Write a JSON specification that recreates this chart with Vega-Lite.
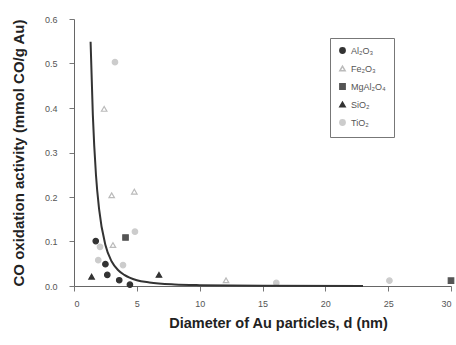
{
  "$schema": "https://vega.github.io/schema/vega-lite/v6.json",
  "autosize": {"type": "none"},
  "width": 377,
  "height": 267,
  "padding": {"left": 74, "top": 19, "right": 5, "bottom": 59},
  "background": "white",
  "config": {
    "font": "Liberation Sans",
    "view": {"stroke": null},
    "axis": {"grid": false, "domainColor": "#666", "tickColor": "#777", "labelColor": "#555", "labelFontSize": 9, "titleColor": "#222", "titleFontWeight": "bold"}
  },
  "datasets": {
    "pts": [
      {"d": 1.73, "a": 0.101, "s": "Al₂O₃"},
      {"d": 2.5, "a": 0.049, "s": "Al₂O₃"},
      {"d": 2.65, "a": 0.025, "s": "Al₂O₃"},
      {"d": 3.6, "a": 0.013, "s": "Al₂O₃"},
      {"d": 4.45, "a": 0.003, "s": "Al₂O₃"},
      {"d": 2.4, "a": 0.398, "s": "Fe₂O₃"},
      {"d": 3.0, "a": 0.204, "s": "Fe₂O₃"},
      {"d": 4.8, "a": 0.212, "s": "Fe₂O₃"},
      {"d": 3.1, "a": 0.092, "s": "Fe₂O₃"},
      {"d": 12.1, "a": 0.013, "s": "Fe₂O₃"},
      {"d": 4.1, "a": 0.109, "s": "MgAl₂O₄"},
      {"d": 30, "a": 0.012, "s": "MgAl₂O₄"},
      {"d": 1.4, "a": 0.021, "s": "SiO₂"},
      {"d": 6.76, "a": 0.025, "s": "SiO₂"},
      {"d": 3.26, "a": 0.503, "s": "TiO₂"},
      {"d": 4.85, "a": 0.122, "s": "TiO₂"},
      {"d": 2.07, "a": 0.088, "s": "TiO₂"},
      {"d": 1.93, "a": 0.058, "s": "TiO₂"},
      {"d": 3.9, "a": 0.047, "s": "TiO₂"},
      {"d": 16.1, "a": 0.007, "s": "TiO₂"},
      {"d": 25.1, "a": 0.012, "s": "TiO₂"}
    ],
    "fit": [
      {"d": 1.32, "a": 0.549},
      {"d": 1.5, "a": 0.384},
      {"d": 1.75, "a": 0.249},
      {"d": 2.0, "a": 0.172},
      {"d": 2.5, "a": 0.092},
      {"d": 3.0, "a": 0.055},
      {"d": 3.5, "a": 0.036},
      {"d": 4.0, "a": 0.025},
      {"d": 5.0, "a": 0.013},
      {"d": 6.0, "a": 0.008},
      {"d": 8.0, "a": 0.0035},
      {"d": 10.0, "a": 0.0019},
      {"d": 15.0, "a": 0.0006},
      {"d": 23.0, "a": 0.0001}
    ]
  },
  "layer": [
    {
      "data": {"name": "pts"},
      "mark": {"type": "point", "size": 30, "strokeWidth": 1.2, "fillOpacity": 1},
      "encoding": {
        "x": {"field": "d", "type": "quantitative", "scale": {"domain": [0, 30], "nice": false},
          "axis": {"values": [0, 5, 10, 15, 20, 25, 30], "tickSize": 5, "labelPadding": 8,
            "title": "Diameter of Au particles, d (nm)", "titleFontSize": 14.5, "titlePadding": 8, "titleX": 204}},
        "y": {"field": "a", "type": "quantitative", "scale": {"domain": [0, 0.6], "nice": false},
          "axis": {"values": [0, 0.1, 0.2, 0.3, 0.4, 0.5, 0.6], "format": ".1f", "tickSize": 5, "labelPadding": 12,
            "title": "CO oxidation activity (mmol CO/g Au)", "titleFontSize": 15, "titlePadding": 18}},
        "shape": {"field": "s", "type": "nominal",
          "scale": {"domain": ["Al₂O₃", "Fe₂O₃", "MgAl₂O₄", "SiO₂", "TiO₂"], "range": ["circle", "triangle-up", "square", "triangle-up", "circle"]},
          "legend": {"title": null, "orient": "none", "legendX": 256, "legendY": 19, "strokeColor": "#777", "padding": 8, "labelFontSize": 9, "labelColor": "#555", "rowPadding": 6, "symbolSize": 28}},
        "color": {"field": "s", "type": "nominal",
          "scale": {"domain": ["Al₂O₃", "Fe₂O₃", "MgAl₂O₄", "SiO₂", "TiO₂"], "range": ["#333", "#bbb", "#555", "#333", "#ccc"]},
          "legend": {"title": null, "orient": "none", "legendX": 256, "legendY": 19, "strokeColor": "#777", "padding": 8, "labelFontSize": 9, "labelColor": "#555", "rowPadding": 6, "symbolSize": 28}},
        "fill": {"field": "s", "type": "nominal",
          "scale": {"domain": ["Al₂O₃", "Fe₂O₃", "MgAl₂O₄", "SiO₂", "TiO₂"], "range": ["#333", "#fff", "#555", "#333", "#ccc"]},
          "legend": {"title": null, "orient": "none", "legendX": 256, "legendY": 19, "strokeColor": "#777", "padding": 8, "labelFontSize": 9, "labelColor": "#555", "rowPadding": 6, "symbolSize": 28}}
      }
    },
    {
      "data": {"name": "fit"},
      "mark": {"type": "line", "color": "#333", "strokeWidth": 2, "interpolate": "monotone"},
      "encoding": {
        "x": {"field": "d", "type": "quantitative"},
        "y": {"field": "a", "type": "quantitative"}
      }
    }
  ]
}
